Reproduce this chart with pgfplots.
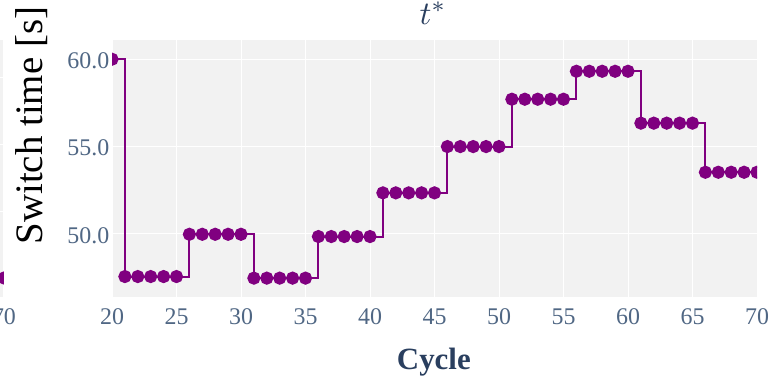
\documentclass[border=0pt]{standalone}
\usepackage{pgfplots}
\pgfplotsset{compat=1.18}
\usepackage{fontspec}
\setmainfont{Liberation Serif}
\definecolor{bggrey}{HTML}{F2F2F2}
\definecolor{tickc}{HTML}{506784}
\definecolor{titlec}{HTML}{2A3F5F}
\definecolor{linec}{HTML}{800080}
\pgfplotsset{
  plotlystyle/.style={
    scale only axis,
    axis background/.style={fill=bggrey},
    axis line style={draw=none},
    major tick length=0pt,
    grid=major,
    major grid style={white, line width=1bp},
    /pgf/number format/assume math mode=true,
    xticklabel style={font=\fontsize{24}{28}\selectfont, text=tickc, inner sep=0pt, anchor=north, yshift=-11.5bp},
    yticklabel style={font=\fontsize{24}{28}\selectfont, text=tickc, inner sep=0pt, anchor=east, xshift=-2.5bp, yshift=-1.5bp},
    clip marker paths=true,
  }
}
\begin{document}
\begin{tikzpicture}
% fragment of neighbouring panel at the left edge
\begin{axis}[plotlystyle,
  at={(-641bp,82bp)}, anchor=south west,
  width=645bp, height=257bp,
  xmin=20, xmax=70, ymin=0, ymax=257,
  xtick={70},
  ytick={85,152,219}, yticklabels={},
]
\addplot[color=linec, line width=2bp, mark=*, mark size=5.6bp, mark options={fill=linec, draw=linec}] coordinates {(70,19)};
\end{axis}
% main panel
\begin{axis}[plotlystyle,
  at={(112bp,82bp)}, anchor=south west,
  width=645bp, height=257bp,
  xmin=20, xmax=70, ymin=46.39, ymax=61.10,
  xtick={20,25,30,35,40,45,50,55,60,65,70},
  ytick={50,55,60},
  yticklabel style={/pgf/number format/.cd, fixed, fixed zerofill, precision=1},
  title={\scalebox{3.3}{$t^{*}$}},
  title style={at={(axis description cs:0.4977,1.038)}, anchor=base, text=titlec, inner sep=0pt},
  xlabel={\textbf{Cycle}},
  xlabel style={at={(axis description cs:0.499,-0.284)}, anchor=base, font=\fontsize{31}{36}\selectfont, text=titlec, inner sep=0pt},
  ylabel={Switch time [s]},
  ylabel style={at={(axis description cs:-0.1085,0.667)}, anchor=base, rotate=0, font=\fontsize{39}{44}\selectfont, text=black, inner sep=0pt},
]
\addplot[const plot, color=linec, line width=2bp, mark=*, mark size=5.6bp, mark options={fill=linec, draw=linec, solid}] coordinates {
(20,60.00)
(21,47.56) (22,47.56) (23,47.56) (24,47.56) (25,47.56)
(26,49.98) (27,49.98) (28,49.98) (29,49.98) (30,49.98)
(31,47.47) (32,47.47) (33,47.47) (34,47.47) (35,47.47)
(36,49.85) (37,49.85) (38,49.85) (39,49.85) (40,49.85)
(41,52.35) (42,52.35) (43,52.35) (44,52.35) (45,52.35)
(46,55.00) (47,55.00) (48,55.00) (49,55.00) (50,55.00)
(51,57.71) (52,57.71) (53,57.71) (54,57.71) (55,57.71)
(56,59.31) (57,59.31) (58,59.31) (59,59.31) (60,59.31)
(61,56.34) (62,56.34) (63,56.34) (64,56.34) (65,56.34)
(66,53.53) (67,53.53) (68,53.53) (69,53.53) (70,53.53)
};
\end{axis}
\pgfresetboundingbox
\useasboundingbox (0,0) rectangle (770bp,379bp);
\end{tikzpicture}
\end{document}
